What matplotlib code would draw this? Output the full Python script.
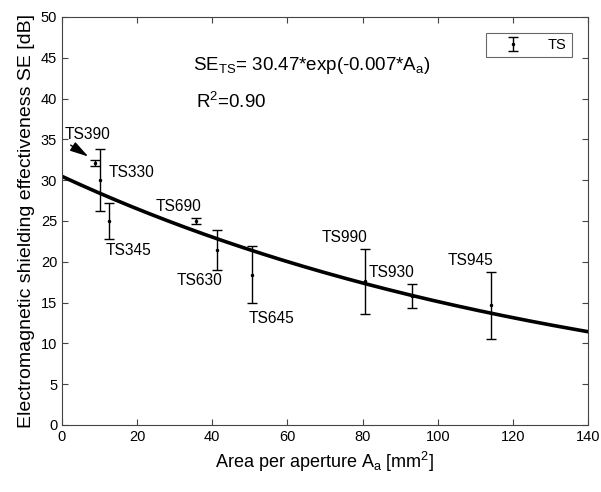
import numpy as np
import matplotlib
matplotlib.use("Agg")
import matplotlib.pyplot as plt

plt.rcParams['font.family'] = ['Liberation Sans', 'DejaVu Sans']
plt.rcParams['mathtext.fontset'] = 'custom'
plt.rcParams['mathtext.rm'] = 'Liberation Sans'
plt.rcParams['mathtext.it'] = 'Liberation Sans'

names = ["TS390", "TS330", "TS345", "TS690", "TS630", "TS645", "TS990", "TS930", "TS945"]
area = [8.8, 10.1, 12.5, 35.6, 41.2, 50.5, 80.6, 93.2, 114.2]
se = [32.1, 30.0, 25.0, 25.0, 21.4, 18.4, 17.6, 15.8, 14.7]
err = [0.35, 3.8, 2.15, 0.35, 2.45, 3.5, 3.95, 1.5, 4.1]
label_pos = [(6.7, 35.6), (18.5, 31.0), (17.8, 21.4), (31.0, 26.8), (36.7, 17.7),
             (55.8, 13.1), (75.1, 23.0), (87.7, 18.7), (108.8, 20.2)]
fit_a, fit_b = 30.47, -0.007

fig = plt.figure(figsize=(6.01, 4.92), dpi=100)
ax = fig.add_axes([62/601, 1-425/492, 526/601, 408/492])

xf = np.linspace(0, 140, 300)
ax.plot(xf, fit_a*np.exp(fit_b*xf), color='black', lw=2.6, zorder=2)
ax.errorbar(area, se, yerr=err, fmt='.', color='black', ecolor='black',
            markersize=3, elinewidth=1, capsize=3.3, capthick=1, label='TS', zorder=3)

for n, (lx, ly) in zip(names, label_pos):
    ax.text(lx, ly, n, ha='center', va='center', fontsize=11.2)

ax.annotate('', xy=(7.0, 32.9), xytext=(2.3, 34.3),
            arrowprops=dict(arrowstyle='-|>,head_length=0.8,head_width=0.22',
                            color='black', lw=1, mutation_scale=14, shrinkA=0, shrinkB=0))

ax.text(34.9, 44.1, r'SE$_{\mathrm{TS}}$= 30.47*exp(-0.007*A$_{\mathrm{a}}$)', fontsize=13.5, va='center')
ax.text(35.6, 39.6, r'R$^{2}$=0.90', fontsize=13.5, va='center')

ax.set_xlim(0, 140)
ax.set_ylim(0, 50)
ax.set_xticks(np.arange(0, 141, 20))
ax.set_yticks(np.arange(0, 51, 5))
ax.tick_params(direction='in', top=True, right=True, length=4, labelsize=10.5, color='#444444')
for s in ax.spines.values():
    s.set_color('#444444')
    s.set_linewidth(0.8)
ax.set_xlabel(r'Area per aperture A$_{\mathrm{a}}$ [mm$^{2}$]', fontsize=13)
ax.set_ylabel('Electromagnetic shielding effectiveness SE [dB]', fontsize=14)

leg = ax.legend(loc='upper right', fontsize=10.5, frameon=True, fancybox=False,
                edgecolor='#444444', handlelength=3.0, handletextpad=0.9,
                borderaxespad=1.1, borderpad=0.35)
leg.get_frame().set_linewidth(0.8)

fig.savefig('out.png', dpi=100)
